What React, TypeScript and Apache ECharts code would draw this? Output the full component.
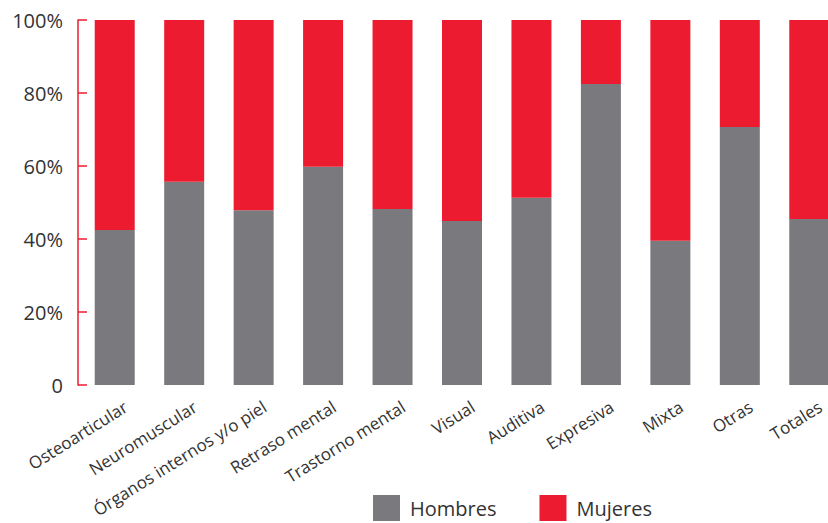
import React, { useEffect, useRef } from "react";
import * as echarts from "echarts";

const categories = [
  "Osteoarticular",
  "Neuromuscular",
  "Órganos internos y/o piel",
  "Retraso mental",
  "Trastorno mental",
  "Visual",
  "Auditiva",
  "Expresiva",
  "Mixta",
  "Otras",
  "Totales",
];
const hombres = [42.5, 55.7, 47.9, 59.8, 48.2, 44.9, 51.3, 82.5, 39.5, 70.7, 45.5];
const mujeres = [57.5, 44.3, 52.1, 40.2, 51.8, 55.1, 48.7, 17.5, 60.5, 29.3, 54.5];
const yTicks = [0, 20, 40, 60, 80, 100];

const GRAY = "#7a7a7e";
const RED = "#ed1b2f";
const FONT = "Open Sans";

export default function App() {
  const ref = useRef<HTMLDivElement>(null);
  useEffect(() => {
    if (!ref.current) return;
    const chart = echarts.init(ref.current, undefined, { renderer: "svg" });
    const dx = 11;
    const gridL = 80;
    const gridW = 764;
    chart.setOption({
      animation: false,
      textStyle: { fontFamily: FONT },
      grid: [
        { left: gridL, width: gridW, top: 20, bottom: 138, containLabel: false, outerBoundsMode: "none" },
        { left: gridL + dx, width: gridW, top: 20, bottom: 138, containLabel: false, outerBoundsMode: "none" },
      ],
      legend: {
        left: 373,
        top: 495,
        padding: 0,
        itemWidth: 27,
        itemHeight: 26,
        itemGap: 43,
        icon: "rect",
        textStyle: { fontSize: 20, color: "#333", fontFamily: FONT, padding: [0, 0, 0, 5] },
        data: ["Hombres", "Mujeres"],
      },
      xAxis: [
        {
          type: "category",
          gridIndex: 0,
          data: categories,
          axisLine: { show: false },
          axisTick: { show: false },
          axisLabel: { show: false },
        },
        {
          type: "category",
          gridIndex: 1,
          data: categories,
          axisLine: { show: false },
          axisTick: { show: false },
          axisLabel: {
            show: true,
            interval: 0,
            rotate: 32,
            margin: 20,
            fontSize: 17,
            color: "#333",
            fontFamily: FONT,
          },
        },
      ],
      yAxis: [
        {
          type: "value",
          gridIndex: 0,
          min: 0,
          max: 100,
          interval: 20,
          offset: 2,
          splitLine: { show: false },
          axisLine: { show: true, lineStyle: { color: RED, width: 1.5 } },
          axisTick: { show: true, inside: true, length: 9, lineStyle: { color: RED, width: 1.5 } },
          axisLabel: {
            margin: 15,
            fontSize: 20,
            color: "#333",
            fontFamily: FONT,
            customValues: yTicks,
            formatter: (v: number) => (v === 0 ? "0" : v + "%"),
          },
        },
        { type: "value", gridIndex: 1, show: false, min: 0, max: 100 },
      ],
      series: [
        {
          name: "Hombres",
          type: "bar",
          stack: "total",
          xAxisIndex: 0,
          yAxisIndex: 0,
          barWidth: 40,
          itemStyle: { color: GRAY },
          data: hombres,
        },
        {
          name: "Mujeres",
          type: "bar",
          stack: "total",
          xAxisIndex: 0,
          yAxisIndex: 0,
          barWidth: 40,
          itemStyle: { color: RED },
          data: mujeres,
        },
      ],
    });
    return () => chart.dispose();
  }, []);
  return (
    <div
      ref={ref}
      style={{ position: "absolute", left: 0, top: 0, width: 828, height: 523 }}
    />
  );
}
